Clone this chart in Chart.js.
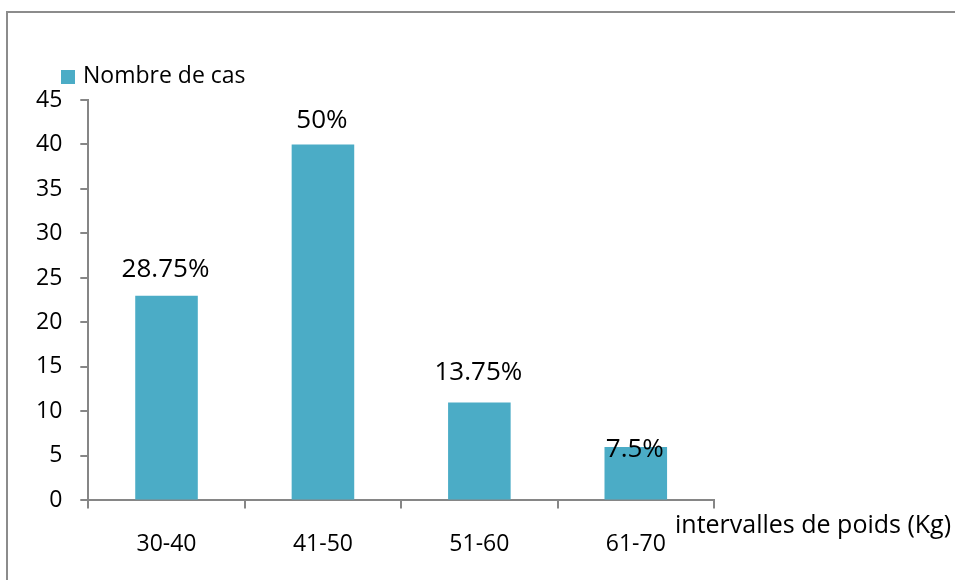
<!DOCTYPE html>
<html lang="fr">
<head>
<meta charset="utf-8">
<title>Nombre de cas par intervalle de poids</title>
<script src="https://cdn.jsdelivr.net/npm/chart.js@4.4.1/dist/chart.umd.min.js"></script>
<style>
  html, body { margin: 0; padding: 0; background: #fff; overflow: hidden; }
  #frame {
    position: absolute; left: 6px; top: 11px;
    width: 1100px; height: 700px;
    border: 2px solid #8c8c8c; box-sizing: border-box;
  }
  #wrap { position: absolute; left: 0; top: 0; width: 955px; height: 580px; }
</style>
</head>
<body>
<div id="frame"></div>
<div id="wrap"><canvas id="poidsChart"></canvas></div>
<script>
const categories = ["30-40", "41-50", "51-60", "61-70"];
const nombreDeCas = [23, 40, 11, 6];
const pctLabels = ["28.75%", "50%", "13.75%", "7.5%"];
const yTicks = [0, 5, 10, 15, 20, 25, 30, 35, 40, 45];

const FONT = "'Open Sans', sans-serif";
const axisGray = "#868686";

// hauteur des étiquettes au-dessus du haut de chaque barre (px)
const labelLift = [19, 16, 23, -10];

const extras = {
    id: "extras",
    afterDatasetsDraw(chart) {
        const ctx = chart.ctx;
        const bars = chart.getDatasetMeta(0).data;
        ctx.save();
        ctx.font = "26px " + FONT;
        ctx.fillStyle = "#000";
        ctx.textAlign = "center";
        ctx.textBaseline = "alphabetic";
        bars.forEach((bar, i) => {
            ctx.fillText(pctLabels[i], bar.x - 1, bar.y - labelLift[i]);
        });
        ctx.restore();
    },
    afterDraw(chart) {
        const ctx = chart.ctx;
        const x = chart.scales.x;
        const ds = chart.data.datasets[0];
        ctx.save();
        ctx.fillStyle = "#000";
        ctx.textBaseline = "alphabetic";
        ctx.textAlign = "left";
        // titre de l'axe des x, à droite de l'axe
        ctx.font = "25px " + FONT;
        ctx.fillText("intervalles de poids (Kg)", x.right - 39, x.top + 33);
        // légende
        ctx.font = "23px " + FONT;
        ctx.fillStyle = ds.backgroundColor;
        ctx.fillRect(61, 70, 14, 14);
        ctx.fillStyle = "#000";
        ctx.fillText(ds.label, 83, 83);
        ctx.restore();
    }
};

new Chart(document.getElementById("poidsChart"), {
    type: "bar",
    data: {
        labels: categories,
        datasets: [{
            label: "Nombre de cas",
            data: nombreDeCas,
            backgroundColor: "#4bacc6",
            categoryPercentage: 1,
            barPercentage: 0.4
        }]
    },
    options: {
        responsive: true,
        maintainAspectRatio: false,
        animation: false,
        layout: { padding: { left: 18, right: 241, top: 100, bottom: 0 } },
        plugins: {
            legend: { display: false },
            tooltip: { enabled: false }
        },
        scales: {
            x: {
                grid: { offset: true, drawOnChartArea: false, drawTicks: true, tickLength: 8, color: axisGray, lineWidth: 2 },
                border: { color: axisGray, width: 2 },
                ticks: { color: "#000", font: { family: FONT, size: 23 }, padding: 22, maxRotation: 0 }
            },
            y: {
                min: 0,
                max: 45,
                afterBuildTicks(scale) {
                    scale.ticks = yTicks.map(v => ({ value: v }));
                },
                grid: { drawOnChartArea: false, drawTicks: true, tickLength: 8, color: axisGray, lineWidth: 2 },
                border: { color: axisGray, width: 2 },
                ticks: { color: "#000", font: { family: FONT, size: 23 }, padding: 18 }
            }
        }
    },
    plugins: [extras]
});
</script>
</body>
</html>
